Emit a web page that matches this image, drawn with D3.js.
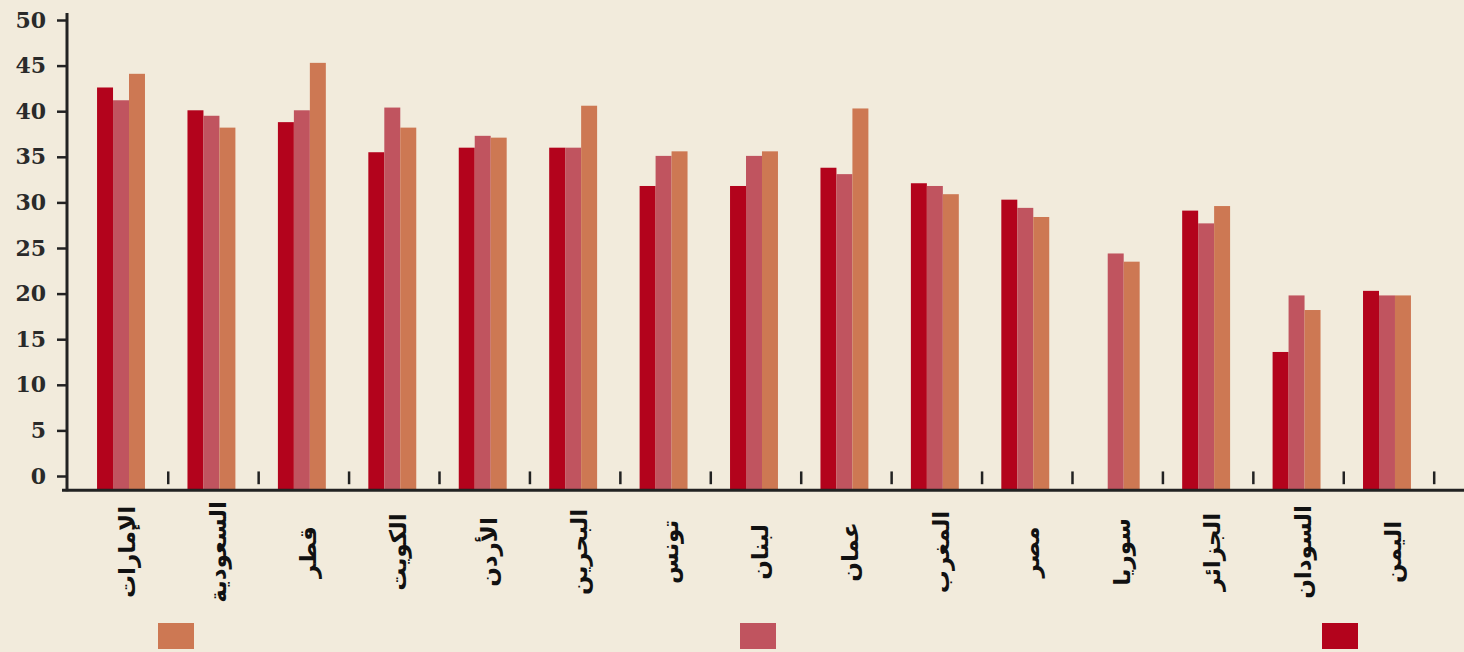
<!DOCTYPE html>
<html>
  <head>
    <meta http-equiv="Content-type" content="text/html; charset=utf-8"/>
    <title>Bar Chart</title>
    <script src="https://d3js.org/d3.v7.min.js"></script>
    <style>
      body{
        margin: 0;
        background: #f2ebdc;
      }
      svg{
        display: block;
      }
    </style>
  </head>
  <body>
    <svg width="1464" height="652"></svg>
    <script>
      // ### Data ###
      var countries = ["الإمارات", "السعودية", "قطر", "الكويت", "الأردن", "البحرين", "تونس",
                       "لبنان", "عمان", "المغرب", "مصر", "سوريا", "الجزائر", "السودان", "اليمن"];
      var seriesKeys = ["s1", "s2", "s3"];
      var s1Values = [42.6, 40.1, 38.8, 35.5, 36.0, 36.0, 31.8, 31.8, 33.8, 32.1, 30.3, null, 29.1, 13.6, 20.3];
      var s2Values = [41.2, 39.5, 40.1, 40.4, 37.3, 36.0, 35.1, 35.1, 33.1, 31.8, 29.4, 24.4, 27.7, 19.8, 19.8];
      var s3Values = [44.1, 38.2, 45.3, 38.2, 37.1, 40.6, 35.6, 35.6, 40.3, 30.9, 28.4, 23.5, 29.6, 18.2, 19.8];
      var yTicks = [0, 5, 10, 15, 20, 25, 30, 35, 40, 45, 50];
      var legendOrder = ["s3", "s2", "s1"];

      var colors = {s1: "#b3031c", s2: "#c0545f", s3: "#cd7853"};
      var values = {s1: s1Values, s2: s2Values, s3: s3Values};

      var svg = d3.select("svg");

      var x = d3.scaleBand()
          .domain(countries)
          .range([75.8, 1432.2])
          .paddingInner(0.47)
          .paddingOuter(0.235);

      var xs = d3.scaleBand()
          .domain(seriesKeys)
          .range([0, x.bandwidth()]);

      var y = d3.scaleLinear()
          .domain([0, 50])
          .range([476, 20]);

      var baseY = y(-1.55);

      // bars
      var groups = svg.append("g").selectAll("g")
        .data(countries)
        .enter().append("g")
          .attr("transform", function(d) { return "translate(" + x(d) + ",0)"; });

      groups.selectAll("rect")
        .data(function(d, i) {
          return seriesKeys.map(function(k) { return {key: k, value: values[k][i]}; })
            .filter(function(e) { return e.value != null; });
        })
        .enter().append("rect")
          .attr("x", function(d) { return xs(d.key); })
          .attr("width", xs.bandwidth())
          .attr("y", function(d) { return y(d.value); })
          .attr("height", function(d) { return baseY - y(d.value); })
          .attr("fill", function(d) { return colors[d.key]; });

      // small separators between groups
      svg.append("g").selectAll("line")
        .data(countries)
        .enter().append("line")
          .attr("x1", function(d) { return x(d) + x.bandwidth() + (x.step() - x.bandwidth()) / 2 + 2; })
          .attr("x2", function(d) { return x(d) + x.bandwidth() + (x.step() - x.bandwidth()) / 2 + 2; })
          .attr("y1", y(0.5))
          .attr("y2", y(-0.9))
          .attr("stroke", "#222")
          .attr("stroke-width", 2.5);

      // y axis
      var yAxis = svg.append("g")
          .attr("transform", "translate(67,0)")
          .call(d3.axisLeft(y).tickValues(yTicks).tickSize(10).tickPadding(11));
      yAxis.select(".domain").remove();
      yAxis.selectAll("line").attr("stroke", "#222").attr("stroke-width", 2.5);
      yAxis.selectAll("text")
          .attr("fill", "#2a2a2a")
          .style("font-family", "'DejaVu Serif', serif")
          .style("font-weight", "bold")
          .style("font-size", "22px");

      svg.append("line")
          .attr("x1", 67).attr("x2", 67)
          .attr("y1", y(50) - 7).attr("y2", baseY + 1)
          .attr("stroke", "#222").attr("stroke-width", 3);

      svg.append("line")
          .attr("x1", 62).attr("x2", 1464)
          .attr("y1", baseY).attr("y2", baseY)
          .attr("stroke", "#222").attr("stroke-width", 3);

      // x labels
      svg.append("g").selectAll("text")
        .data(countries)
        .enter().append("text")
          .attr("transform", function(d) { return "translate(" + (x(d) + x.bandwidth() / 2 + 6) + ",552) rotate(-90)"; })
          .attr("text-anchor", "middle")
          .attr("dy", "0.35em")
          .attr("fill", "#111")
          .style("font-family", "'DejaVu Sans', sans-serif")
          .style("font-weight", "bold")
          .style("font-size", "23px")
          .text(function(d) { return d; });

      // legend
      var lx = d3.scalePoint().domain(legendOrder).range([176, 1340]);
      svg.append("g").selectAll("rect")
        .data(legendOrder)
        .enter().append("rect")
          .attr("x", function(d) { return lx(d) - 18; })
          .attr("y", 623)
          .attr("width", 36)
          .attr("height", 26)
          .attr("fill", function(d) { return colors[d]; });
    </script>
  </body>
</html>
